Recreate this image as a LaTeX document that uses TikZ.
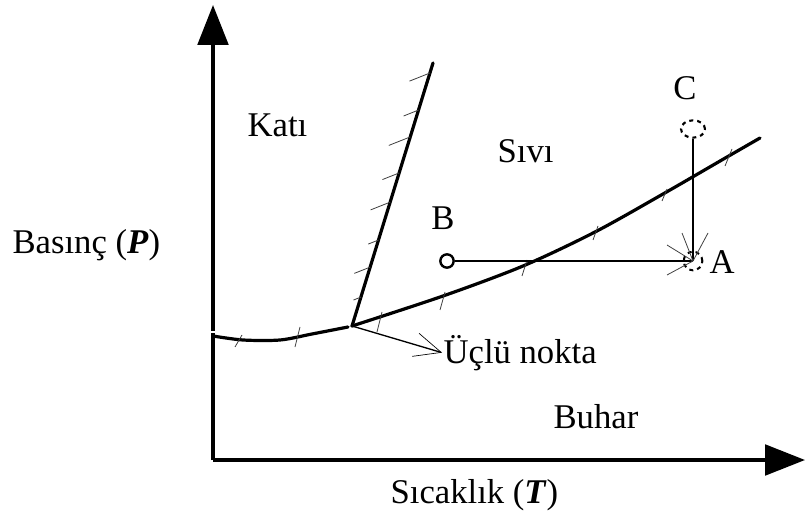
\documentclass[tikz,border=0pt]{standalone}
\usepackage{fontspec}
\setmainfont{Liberation Serif}
\usetikzlibrary{calc,arrows.meta,shapes.geometric}

\begin{document}
\begin{tikzpicture}[x=0.75pt, y=-0.75pt,
        every node/.style={inner sep=1pt, font=\fontsize{26}{30}\selectfont},
        axis/.style={line width=2.5pt, -{Triangle[length=30pt, width=23pt]}},
        curve/.style={line width=2.4pt, line cap=round},
        hatch/.style={gray!50!black, line width=0.6pt},
        process/.style={line width=1.8pt},
        pointer/.style={line width=1pt, -{Straight Barb[length=20pt, width=18pt, line width=0.5pt]}}]
        \useasboundingbox (0,0) rectangle (806,513);

        % Axes
        \coordinate (origin) at (213,460);
        \coordinate (ytip) at (213,5);
        \coordinate (xtip) at (805,460);
        \draw[axis] (origin) -- (ytip);
        \draw[axis] (origin) -- (xtip);
        \draw[white, line width=1.5pt] (208,332) -- (218,332);

        % Triple point and phase boundaries
        \coordinate (tp) at (352,326);
        \coordinate (fusTop) at (433,63);
        \draw[curve] plot[smooth] coordinates {(213,336) (243,340) (280,340) (312,334) (348,327)};
        \draw[curve] (tp) -- (fusTop);
        \draw[curve] plot[smooth] coordinates {(352,326) (443,296) (523,266) (595,232) (663,194) (727,157) (760,138)};

        % Hatching on the melting line
        \foreach \t/\l in {0.962/22, 0.821/16, 0.719/23, 0.582/18, 0.471/21, 0.327/11, 0.224/17, 0.110/8} {
            \draw[hatch] ($(tp)!\t!(fusTop)$) -- ++(-0.93*\l, 0.37*\l);
        }
        % Ticks across sublimation and boiling curves
        \foreach \xa/\ya/\xb/\yb in {235/347/242/335, 295/347/300/327, 377/332/382/312, 440/310/445/292,
                                     522/276/527/260, 593/240/598/226, 662/201/667/189, 725/166/732/149} {
            \draw[hatch] (\xa,\ya) -- (\xb,\yb);
        }

        % States B, A, C
        \node[circle, draw, line width=1.8pt, inner sep=0pt, minimum size=10pt] (B) at (447,261) {};
        \node[circle, draw, dashed, line width=1.5pt, inner sep=0pt, minimum size=14pt] (A) at (693,261) {};
        \node[ellipse, draw, dashed, line width=1.6pt, inner sep=0pt, minimum width=18pt, minimum height=13pt] (C) at (693,129) {};
        \draw[process] (B.east) -- (A.center);
        \draw[process] (C.south) -- (A.center);

        % Rays round A
        \draw[hatch] (A.center) -- ++(-11,-28);
        \draw[hatch] (A.center) -- ++(15,-28);
        \draw[hatch] (A.center) -- ++(-26,-16);
        \draw[hatch] (A.center) -- ++(-26,14);

        % Labels
        \node[anchor=base] (lblB) at (443,230) {B};
        \node[anchor=base] (lblC) at (685,100) {C};
        \node[anchor=base west] (lblA) at (708,273) {A};
        \node[anchor=base west] (kati) at (246,137) {Katı};
        \node[anchor=base west] (sivi) at (496,163) {Sıvı};
        \node[anchor=base west] (buhar) at (552,428) {Buhar};
        \node[anchor=base west] (nokta) at (442,363) {Üçlü nokta};
        \node[anchor=base west] (ylabel) at (11,253) {Basınç (\textbf{\textit{P}})};
        \node[anchor=base west] (xlabel) at (389,503) {Sıcaklık (\textbf{\textit{T}})};

        \draw[pointer] (tp) -- (nokta.west);
\end{tikzpicture}
\end{document}
